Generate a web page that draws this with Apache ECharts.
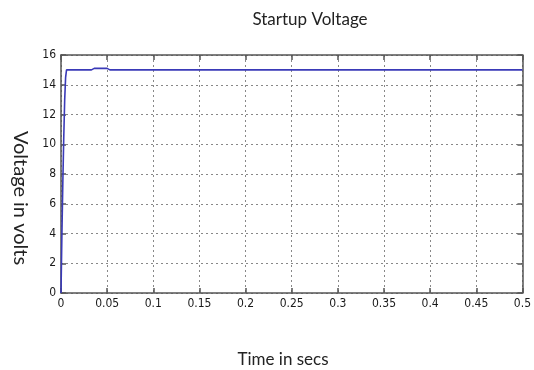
<!DOCTYPE html>
<html>
<head>
<meta charset="utf-8">
<script src="https://cdn.jsdelivr.net/npm/echarts@6/dist/echarts.min.js"></script>
<style>
  html, body { margin: 0; padding: 0; background: #fff; }
  #chart { width: 534px; height: 370px; }
</style>
</head>
<body>
<div id="chart"></div>
<script>
// Startup voltage trace: time (s) vs output voltage (V)
const timeSecs = [0, 0.001, 0.002, 0.003, 0.004, 0.005, 0.006, 0.033, 0.036, 0.05, 0.053, 0.1, 0.2, 0.3, 0.4, 0.5];
const voltage  = [0, 4, 7.5, 10.5, 13, 14.5, 15, 15, 15.1, 15.1, 15, 15, 15, 15, 15, 15];

const titleText = 'Startup Voltage';
const xName = 'Time in secs';
const yName = 'Voltage in volts';

const labelFont = 'Lato, "Open Sans", sans-serif';
const tickFont = '"DejaVu Sans Condensed", "DejaVu Sans", sans-serif';
const frameColor = '#555';

const chart = echarts.init(document.getElementById('chart'));

const baseAxis = {
  axisLine: { show: true, onZero: false, lineStyle: { color: frameColor, width: 1.5 } },
  axisTick: { show: true, inside: true, length: 5, lineStyle: { color: frameColor, width: 1.5 } }
};

const tickLabel = { fontFamily: tickFont, fontSize: 12, color: '#1a1a1a', margin: 5 };
const gridLine = { show: true, lineStyle: { type: [2, 3], color: '#888', width: 1 } };

chart.setOption({
  animation: false,
  title: {
    text: titleText,
    left: 305, top: 6,
    textAlign: 'center',
    textStyle: { fontFamily: labelFont, fontWeight: 'normal', fontSize: 17, color: '#222' }
  },
  grid: { left: 61, right: 7, top: 55, bottom: 77 },
  xAxis: [
    Object.assign({}, baseAxis, {
      type: 'value', min: 0, max: 0.5, interval: 0.05,
      axisLabel: tickLabel, splitLine: gridLine
    }),
    Object.assign({}, baseAxis, {
      type: 'value', min: 0, max: 0.5, interval: 0.05, position: 'top',
      axisLabel: { show: false }, splitLine: { show: false }
    })
  ],
  yAxis: [
    Object.assign({}, baseAxis, {
      type: 'value', min: 0, max: 16, interval: 2,
      axisLabel: tickLabel, splitLine: gridLine
    }),
    Object.assign({}, baseAxis, {
      type: 'value', min: 0, max: 16, interval: 2, position: 'right',
      axisLabel: { show: false }, splitLine: { show: false }
    })
  ],
  graphic: [
    {
      type: 'text', x: 283, y: 360,
      style: { text: xName, textAlign: 'center', textVerticalAlign: 'middle', fontFamily: labelFont, fontSize: 17, fill: '#222' }
    },
    {
      type: 'text', x: 20, y: 198, rotation: -Math.PI / 2,
      style: { text: yName, textAlign: 'center', textVerticalAlign: 'middle', fontFamily: labelFont, fontSize: 20, fill: '#222' }
    }
  ],
  series: [{
    type: 'line',
    data: timeSecs.map((t, i) => [t, voltage[i]]),
    showSymbol: false,
    lineStyle: { color: '#3a3ab8', width: 1.6 }
  }]
});
</script>
</body>
</html>
